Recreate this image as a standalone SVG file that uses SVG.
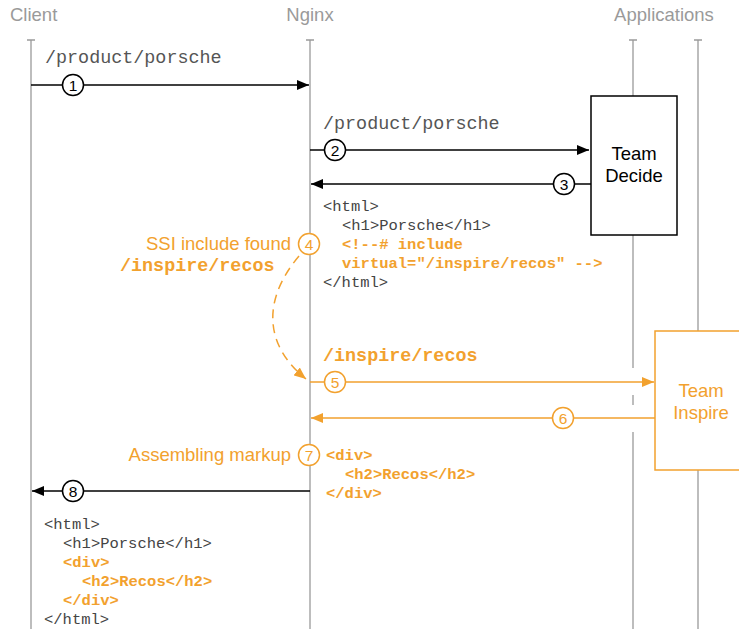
<svg xmlns="http://www.w3.org/2000/svg" width="739" height="629" viewBox="0 0 739 629">
<defs>
<marker id="ah" viewBox="0 0 12 10" refX="12" refY="5" markerWidth="12" markerHeight="10" markerUnits="userSpaceOnUse" orient="auto"><path d="M0,0 L12,5 L0,10 z" fill="#000"/></marker>
<marker id="aho" viewBox="0 0 12 10" refX="12" refY="5" markerWidth="12" markerHeight="10" markerUnits="userSpaceOnUse" orient="auto"><path d="M0,0 L12,5 L0,10 z" fill="#f2a12e"/></marker>
</defs>
<style>
.hdr{font-family:"Liberation Sans",Arial,sans-serif;font-size:18.5px;fill:#9a9a9a}
.life{stroke:#9a9a9a;stroke-width:1.3;fill:none}
.lbl{font-family:"Liberation Mono","Courier New",monospace;font-size:18.4px;fill:#555}
.lblo{font-family:"Liberation Mono","Courier New",monospace;font-size:18.4px;font-weight:bold;fill:#f2a12e}
.code{font-family:"Liberation Mono","Courier New",monospace;font-size:15.5px;fill:#444}
.codeo{font-family:"Liberation Mono","Courier New",monospace;font-size:15.5px;font-weight:bold;fill:#f2a12e}
.sans{font-family:"Liberation Sans",Arial,sans-serif;font-size:18.5px}
.ln{stroke:#000;stroke-width:1.5;fill:none}
.lno{stroke:#f2a12e;stroke-width:1.5;fill:none}
.c{fill:#fff;stroke:#000;stroke-width:1.5}
.co{fill:#fff;stroke:#f2a12e;stroke-width:1.5}
.num{font-family:"Liberation Sans",Arial,sans-serif;font-size:15.5px;text-anchor:middle}
</style>
<rect width="739" height="629" fill="#fff"/>
<g id="headers">
<text class="hdr" x="10" y="21">Client</text>
<text class="hdr" x="310" y="21" text-anchor="middle">Nginx</text>
<text class="hdr" x="664" y="21" text-anchor="middle">Applications</text>
</g>
<g id="lifelines">
<path class="life" d="M31,40 V629 M27,40 H35"/>
<path class="life" d="M310,40 V629 M306,40 H314"/>
<path class="life" d="M633,40 V96 M629,40 H637 M633,235 V368 M633,395 V405 M633,432 V629"/>
<path class="life" d="M698,40 V331 M694,40 H702 M698,470 V629"/>
</g>
<g id="team-decide">
<rect x="591" y="96" width="86" height="139" fill="#fff" stroke="#000" stroke-width="1.5"/>
<text class="sans" x="634" y="160" text-anchor="middle" fill="#000">Team</text>
<text class="sans" x="634" y="182" text-anchor="middle" fill="#000">Decide</text>
</g>
<g id="team-inspire">
<rect x="655" y="331" width="90" height="139" fill="#fff" stroke="#f2a12e" stroke-width="1.5"/>
<text class="sans" x="701" y="397" text-anchor="middle" fill="#f2a12e">Team</text>
<text class="sans" x="701" y="419" text-anchor="middle" fill="#f2a12e">Inspire</text>
</g>
<g id="connectors">
<line class="ln" x1="31" y1="85" x2="309" y2="85" marker-end="url(#ah)"/>
<line class="ln" x1="310" y1="150" x2="589" y2="150" marker-end="url(#ah)"/>
<line class="ln" x1="591" y1="184" x2="311" y2="184" marker-end="url(#ah)"/>
<path class="lno" d="M299,256 C262,300 264,345 306,379" stroke-dasharray="9,6" marker-end="url(#aho)"/>
<line class="lno" x1="310" y1="382" x2="654" y2="382" marker-end="url(#aho)"/>
<line class="lno" x1="655" y1="418" x2="311" y2="418" marker-end="url(#aho)"/>
<line class="ln" x1="310" y1="491" x2="32" y2="491" marker-end="url(#ah)"/>
</g>
<g id="step-1">
<text class="lbl" x="45" y="63">/product/porsche</text>
<circle class="c" cx="73" cy="85" r="10.5"/><text class="num" x="73" y="90.5">1</text>
</g>
<g id="step-2">
<text class="lbl" x="323" y="129">/product/porsche</text>
<circle class="c" cx="335" cy="150" r="10.5"/><text class="num" x="335" y="155.5">2</text>
</g>
<g id="step-3">
<circle class="c" cx="564" cy="184" r="10.5"/><text class="num" x="564" y="189.5">3</text>
<text class="code" x="323" y="211">&lt;html&gt;</text>
<text class="code" x="342" y="230">&lt;h1&gt;Porsche&lt;/h1&gt;</text>
<text class="codeo" x="342" y="249">&lt;!--# include</text>
<text class="codeo" x="342" y="268">virtual="/inspire/recos" --&gt;</text>
<text class="code" x="323" y="287">&lt;/html&gt;</text>
</g>
<g id="step-4">
<text class="sans" x="291" y="250" text-anchor="end" fill="#f2a12e">SSI include found</text>
<text class="lblo" x="120" y="271">/inspire/recos</text>
<circle class="co" cx="309" cy="244" r="10.5"/><text class="num" x="309" y="249.5" fill="#f2a12e">4</text>
</g>
<g id="step-5">
<text class="lblo" x="323" y="361">/inspire/recos</text>
<circle class="co" cx="335" cy="382" r="10.5"/><text class="num" x="335" y="387.5" fill="#f2a12e">5</text>
</g>
<g id="step-6">
<circle class="co" cx="563" cy="418" r="10.5"/><text class="num" x="563" y="423.5" fill="#f2a12e">6</text>
</g>
<g id="step-7">
<text class="sans" x="291" y="461" text-anchor="end" fill="#f2a12e">Assembling markup</text>
<circle class="co" cx="309" cy="455" r="10.5"/><text class="num" x="309" y="460.5" fill="#f2a12e">7</text>
<text class="codeo" x="326" y="460">&lt;div&gt;</text>
<text class="codeo" x="345" y="479">&lt;h2&gt;Recos&lt;/h2&gt;</text>
<text class="codeo" x="326" y="498">&lt;/div&gt;</text>
</g>
<g id="step-8">
<circle class="c" cx="73" cy="491" r="10.5"/><text class="num" x="73" y="496.5">8</text>
<text class="code" x="44" y="529">&lt;html&gt;</text>
<text class="code" x="63" y="548">&lt;h1&gt;Porsche&lt;/h1&gt;</text>
<text class="codeo" x="63" y="567">&lt;div&gt;</text>
<text class="codeo" x="82" y="586">&lt;h2&gt;Recos&lt;/h2&gt;</text>
<text class="codeo" x="63" y="605">&lt;/div&gt;</text>
<text class="code" x="44" y="624">&lt;/html&gt;</text>
</g>
</svg>
